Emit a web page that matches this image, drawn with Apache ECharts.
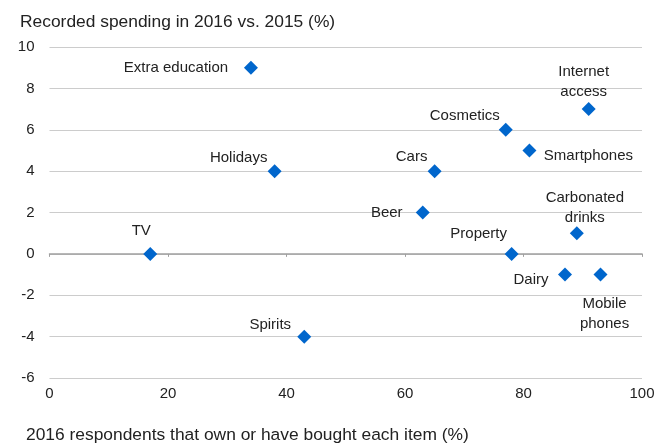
<!DOCTYPE html>
<html>
<head>
<meta charset="utf-8">
<script src="https://cdn.jsdelivr.net/npm/echarts@6/dist/echarts.min.js"></script>
<style>html,body{margin:0;padding:0;background:#fff}#c{width:672px;height:445px}</style>
</head>
<body>
<div id="c"></div>
<script>
const items = ["Extra education","Holidays","TV","Spirits","Beer","Cars","Cosmetics","Smartphones","Internet\naccess","Carbonated\ndrinks","Property","Dairy","Mobile\nphones"];
const ownership = [34,38,17,43,63,65,77,81,91,89,78,87,93];
const spendingChange = [9,4,0,-4,2,4,6,5,7,1,0,-1,-1];
const xTicks = [0,20,40,60,80,100];
const yTicks = [-6,-4,-2,0,2,4,6,8,10];
const yTitle = "Recorded spending in 2016 vs. 2015 (%)";
const xTitle = "2016 respondents that own or have bought each item (%)";

// label placement (text centre offset from the marker, px)
const labelOffset = {
  "Extra education": [-75, 0],
  "Holidays": [-36, -13],
  "TV": [-9, -23],
  "Spirits": [-34, -12],
  "Beer": [-36, 0],
  "Cars": [-23, -14],
  "Cosmetics": [-41, -14],
  "Smartphones": [59, 5],
  "Internet\naccess": [-5, -27],
  "Carbonated\ndrinks": [8, -25],
  "Property": [-33, -20],
  "Dairy": [-34, 5],
  "Mobile\nphones": [4, 39]
};
const SYM = 14;
const FONT = "'Liberation Sans', Arial, sans-serif";
const data = items.map((n, i) => {
  const o = labelOffset[n];
  return {
    name: n,
    value: [ownership[i], spendingChange[i]],
    label: {
      show: true,
      formatter: n,
      position: [o[0] + SYM / 2, o[1] + SYM / 2],
      align: 'center',
      verticalAlign: 'middle'
    }
  };
});

const chart = echarts.init(document.getElementById('c'), null, {renderer: 'canvas'});
chart.setOption({
  animation: false,
  backgroundColor: '#fff',
  textStyle: {fontFamily: FONT},
  title: [
    {text: yTitle, left: 15, top: 9, textStyle: {fontSize: 17.4, fontWeight: 'normal', color: '#222', fontFamily: FONT}},
    {text: xTitle, left: 21, top: 422, textStyle: {fontSize: 17.4, fontWeight: 'normal', color: '#222', fontFamily: FONT}}
  ],
  grid: {left: 49.5, right: 30, top: 47, bottom: 67, containLabel: false},
  xAxis: [
    {
      type: 'value', min: xTicks[0], max: xTicks[xTicks.length - 1], interval: 20,
      position: 'bottom',
      axisLine: {show: false, onZero: false},
      axisTick: {show: false},
      splitLine: {show: false},
      axisLabel: {fontSize: 15, color: '#222', margin: 8, fontFamily: FONT}
    },
    {
      type: 'value', min: xTicks[0], max: xTicks[xTicks.length - 1], interval: 20,
      position: 'bottom',
      axisLine: {show: true, onZero: true, lineStyle: {color: '#a0a0a0', width: 1.5}},
      axisTick: {show: true, length: 3, lineStyle: {color: '#a0a0a0'}},
      splitLine: {show: false},
      axisLabel: {show: false}
    }
  ],
  yAxis: {
    type: 'value', min: yTicks[0], max: yTicks[yTicks.length - 1], interval: 2,
    axisLine: {show: false},
    axisTick: {show: false},
    splitLine: {show: true, lineStyle: {color: '#cccccc', width: 1.2}},
    axisLabel: {fontSize: 15, color: '#222', margin: 15, fontFamily: FONT}
  },
  series: [{
    type: 'scatter',
    xAxisIndex: 0,
    symbol: 'diamond',
    symbolSize: SYM,
    itemStyle: {color: '#0066cc', opacity: 1},
    label: {fontSize: 15, color: '#222', lineHeight: 20, fontFamily: FONT},
    emphasis: {disabled: true},
    data: data,
    z: 5
  }]
});
</script>
</body>
</html>
